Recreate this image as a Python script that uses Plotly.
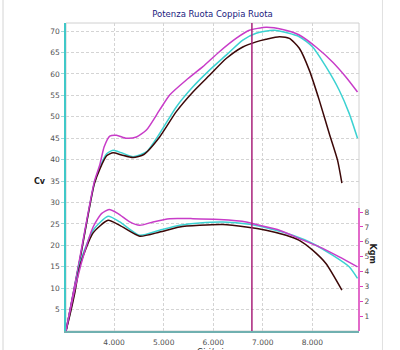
import plotly.graph_objects as go

# ---- data (rpm, Cv / Kgm) ----
rpm_pow_pink = [3030, 3300, 3600, 3712, 3800, 3913, 4048, 4250, 4451, 4652, 4919, 5121, 5457, 5791, 6124, 6460, 6728, 7066, 7400, 7736, 8072, 8406, 8675, 8910]
cv_pow_pink = [0, 16.5, 34.8, 38.8, 43.0, 45.5, 45.7, 45.0, 45.3, 46.9, 51.6, 55.1, 58.6, 61.7, 65.2, 68.3, 70.2, 70.9, 70.4, 69.1, 66.3, 62.8, 59.3, 55.8]

rpm_pow_cyan = [3030, 3300, 3600, 3712, 3850, 3980, 4150, 4382, 4652, 4919, 5255, 5590, 5925, 6261, 6596, 6865, 7233, 7736, 8004, 8273, 8541, 8742, 8910]
cv_pow_cyan = [0, 16.2, 34.5, 38.2, 41.4, 42.2, 41.6, 40.7, 41.8, 46.1, 52.3, 57.0, 60.9, 64.4, 67.9, 69.5, 70.2, 68.7, 66.3, 61.7, 56.2, 50.8, 45.0]

rpm_pow_black = [3030, 3300, 3600, 3712, 3850, 3980, 4150, 4382, 4600, 4919, 5255, 5590, 5925, 6261, 6596, 6865, 7066, 7334, 7535, 7736, 7937, 8138, 8340, 8507, 8595]
cv_pow_black = [0, 16.0, 34.3, 37.8, 40.9, 41.6, 41.1, 40.5, 41.2, 45.3, 51.2, 55.8, 59.7, 63.6, 66.3, 67.5, 68.1, 68.7, 68.3, 66.0, 60.9, 53.9, 46.1, 39.9, 34.5]

rpm_trq_pink = [3030, 3200, 3376, 3577, 3746, 3899, 4080, 4316, 4517, 4785, 5121, 5590, 6124, 6664, 6932, 7334, 7736, 8138, 8541, 8910]
kgm_trq_pink = [0, 2.7, 5.0, 7.0, 7.9, 8.17, 7.9, 7.34, 7.11, 7.34, 7.56, 7.56, 7.5, 7.34, 7.11, 6.78, 6.22, 5.66, 4.99, 4.32]

rpm_trq_cyan = [3030, 3111, 3210, 3310, 3577, 3879, 4115, 4517, 4919, 5322, 5724, 6193, 6731, 7199, 7602, 8004, 8406, 8742, 8910]
kgm_trq_cyan = [0, 1.19, 2.75, 4.54, 6.78, 7.72, 7.34, 6.44, 6.78, 7.11, 7.27, 7.34, 7.18, 6.83, 6.44, 5.89, 5.10, 4.32, 3.54]

rpm_trq_black = [3030, 3111, 3210, 3310, 3577, 3879, 4115, 4517, 4919, 5322, 5724, 6193, 6664, 7066, 7469, 7736, 8004, 8273, 8595]
kgm_trq_black = [0, 1.1, 2.6, 4.4, 6.6, 7.45, 7.11, 6.38, 6.66, 7.0, 7.11, 7.16, 7.0, 6.78, 6.44, 6.1, 5.44, 4.54, 2.75]

marker_rpm = 6780
x_ticks = [4000, 5000, 6000, 7000, 8000]
x_ticktext = ["4.000", "5.000", "6.000", "7.000", "8.000"]
cv_ticks = [5, 10, 15, 20, 25, 30, 35, 40, 45, 50, 55, 60, 65, 70]
kgm_ticks = [1, 2, 3, 4, 5, 6, 7, 8]
kgm_axis_top = 8.27

PINK = "#c83cc8"
CYAN = "#3cd2d2"
DARK = "#3c0808"
FONT = "DejaVu Sans"
KGM_FRAC = 0.399  # fraction of plot height used by the Kgm scale

fig = go.Figure()
line_kw = dict(shape="spline", smoothing=0.6, width=1.5)
for xs, ys, c in [(rpm_pow_cyan, cv_pow_cyan, CYAN), (rpm_pow_black, cv_pow_black, DARK), (rpm_pow_pink, cv_pow_pink, PINK)]:
    fig.add_trace(go.Scatter(x=xs, y=ys, mode="lines", line=dict(color=c, **line_kw), yaxis="y", showlegend=False, hoverinfo="skip"))
for xs, ys, c in [(rpm_trq_cyan, kgm_trq_cyan, CYAN), (rpm_trq_black, kgm_trq_black, DARK), (rpm_trq_pink, kgm_trq_pink, PINK)]:
    fig.add_trace(go.Scatter(x=xs, y=ys, mode="lines", line=dict(color=c, **line_kw), yaxis="y2", showlegend=False, hoverinfo="skip"))

fig.add_shape(type="line", xref="x", yref="paper", x0=marker_rpm, x1=marker_rpm, y0=0, y1=1,
              line=dict(color="#a8207a", width=1.5))
# plot frame top/right
fig.add_shape(type="rect", xref="paper", yref="paper", x0=0, x1=1, y0=0, y1=1,
              line=dict(color="#d0d0d0", width=1), layer="below")
# Kgm axis line (only over its own scale)
fig.add_shape(type="line", xref="paper", yref="y2", x0=1, x1=1, y0=0, y1=kgm_axis_top,
              line=dict(color="#e040c0", width=1.5))
# outer light frame
fig.add_shape(type="line", xref="paper", yref="paper", x0=-0.215, x1=-0.215, y0=-0.1, y1=1.1,
              line=dict(color="#d4d4d4", width=1))
fig.add_shape(type="line", xref="paper", yref="paper", x0=1.080, x1=1.080, y0=-0.1, y1=1.1,
              line=dict(color="#e0e0e0", width=1))

tick_font = dict(family=FONT, size=7.5, color="#505050")
grid_kw = dict(showgrid=True, gridcolor="#d4d4d4", griddash="3px,2px", gridwidth=1)
fig.update_layout(
    width=400, height=350,
    margin=dict(l=66, r=41, t=23, b=19, autoexpand=False),
    paper_bgcolor="white", plot_bgcolor="white",
    title=dict(text="Potenza Ruota Coppia Ruota", x=0.5, xref="paper", y=1 - 14 / 350, yanchor="middle",
               font=dict(family=FONT, size=8.5, color="#1a1a80"), automargin=False),
    xaxis=dict(range=[3030, 8940], tickvals=x_ticks, ticktext=x_ticktext, tickfont=tick_font,
               showline=True, linecolor="#70b0b0", linewidth=1.5, ticks="outside", ticklen=3,
               tickcolor="rgba(0,0,0,0)", zeroline=False, automargin=False, **grid_kw),
    yaxis=dict(range=[0, 71.9], tickvals=cv_ticks, tickfont=tick_font,
               showline=True, linecolor="#40c8c8", linewidth=1.5, ticks="outside", ticklen=3,
               tickcolor="#a0d8d8", zeroline=False, automargin=False, **grid_kw),
    yaxis2=dict(overlaying="y", anchor="x", side="right", range=[0, kgm_axis_top / KGM_FRAC], tickvals=kgm_ticks,
                tickfont=tick_font, showgrid=False, showline=False, automargin=False,
                ticks="outside", ticklen=3, tickcolor="#e040c0", zeroline=False),
    annotations=[
        dict(text="<b>Cv</b>", xref="paper", yref="paper", x=(32 - 66) / 293, y=(331 - 181) / 308,
             showarrow=False, font=dict(family=FONT, size=8, color="#202020")),
        dict(text="<b>Kgm</b>", xref="paper", yref="paper", x=(379 - 66) / 293, y=(331 - 265) / 308,
             showarrow=False, textangle=90, font=dict(family=FONT, size=8, color="#202020")),
        dict(text="Giri/min", xref="paper", yref="paper", x=(213 - 66) / 293, y=(331 - 346) / 308,
             yanchor="top", showarrow=False, font=dict(family=FONT, size=8, color="#303030")),
    ],
)

fig.write_html("out.html")
